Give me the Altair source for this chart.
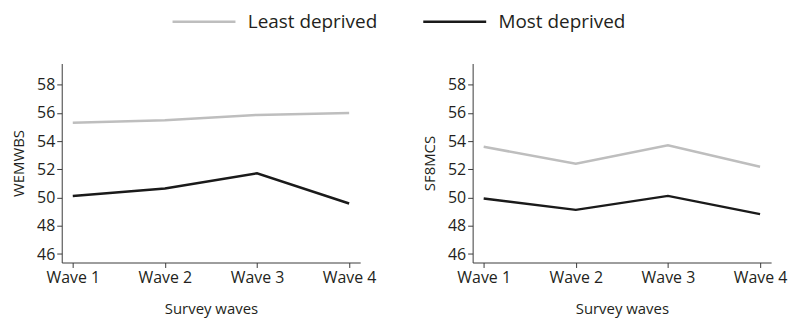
import altair as alt
import pandas as pd

waves = ["Wave 1", "Wave 2", "Wave 3", "Wave 4"]
groups = ["Least deprived", "Most deprived"]
wemwbs_least = [55.3, 55.48, 55.86, 56.0]
wemwbs_most = [50.12, 50.64, 51.72, 49.58]
sf8mcs_least = [53.6, 52.4, 53.7, 52.19]
sf8mcs_most = [49.93, 49.13, 50.12, 48.83]
y_ticks = [46, 48, 50, 52, 54, 56, 58]

def frame(least, most):
    rows = []
    for w, a, b in zip(waves, least, most):
        rows.append({"wave": w, "group": groups[0], "value": a})
        rows.append({"wave": w, "group": groups[1], "value": b})
    return pd.DataFrame(rows)

FONT = "Open Sans"
TXT = "#231f20"

color = alt.Color(
    "group:N",
    scale=alt.Scale(domain=groups, range=["#bebebe", "#1a1a1a"]),
    legend=alt.Legend(
        title=None, orient="none", direction="horizontal",
        legendX=110, legendY=-75,
        symbolType="stroke", symbolSize=4000, symbolStrokeWidth=2.5,
        labelFontSize=19, labelFont=FONT, labelColor=TXT,
        labelOffset=11, columnPadding=40,
    ),
)

def panel(df, ytitle):
    return alt.Chart(df).mark_line(strokeWidth=2.5).encode(
        x=alt.X("wave:O", sort=waves,
                scale=alt.Scale(type="point", padding=0.12),
                axis=alt.Axis(title="Survey waves", labelAngle=0)),
        y=alt.Y("value:Q",
                scale=alt.Scale(domain=[45.4, 59.5], nice=False, zero=False),
                axis=alt.Axis(title=ytitle, values=y_ticks)),
        color=color,
    ).properties(width=300, height=200)

left = panel(frame(wemwbs_least, wemwbs_most), "WEMWBS")
right = panel(frame(sf8mcs_least, sf8mcs_most), "SF8MCS")

chart = alt.hconcat(left, right, spacing=46).properties(
    padding={"top": -20, "left": 3, "right": 5, "bottom": 5}
).configure_view(
    stroke=None
).configure_axis(
    grid=False, domainColor="#3a3a3a", tickColor="#3a3a3a", tickSize=5,
    labelFont=FONT, labelFontSize=16, labelColor=TXT, labelPadding=2,
    titleFont=FONT, titleFontSize=15, titleColor=TXT, titleFontWeight="normal",
    titlePadding=16,
).configure_axisY(titlePadding=10)

chart.save("out.html", embed_options={"renderer": "svg", "actions": False})
